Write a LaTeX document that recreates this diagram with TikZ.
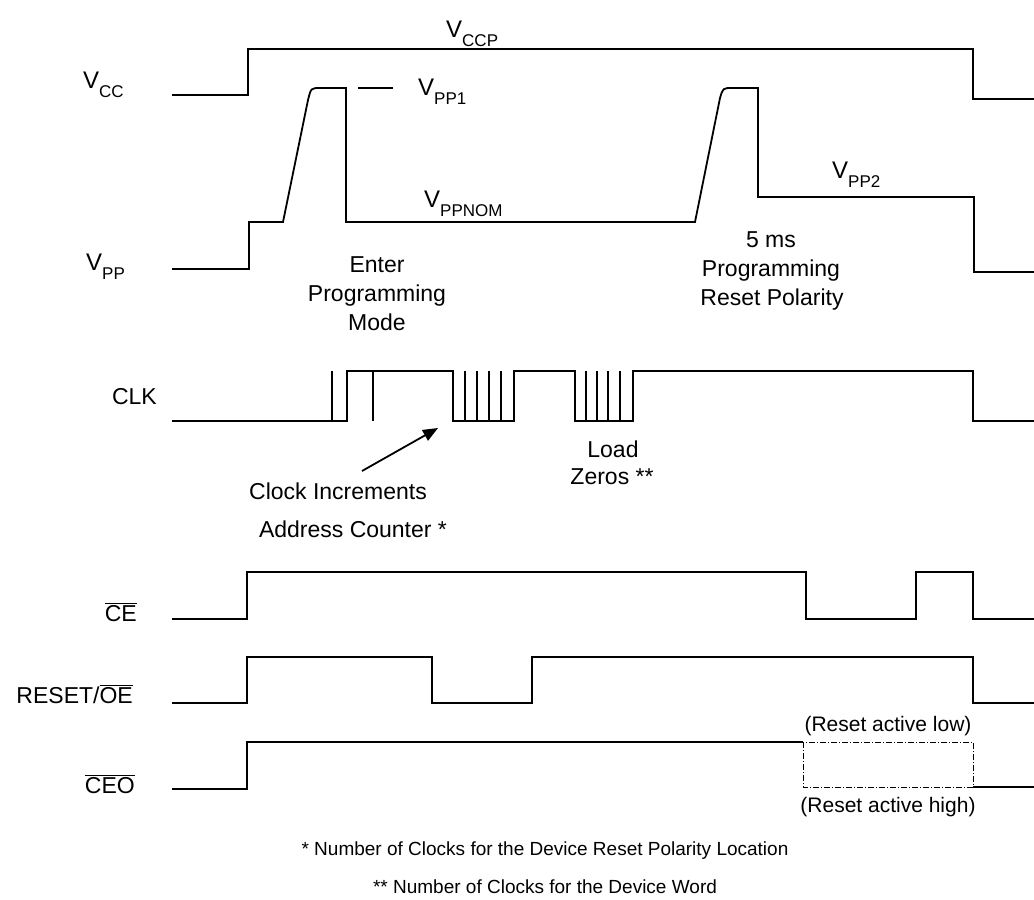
\documentclass[tikz,border=0pt]{standalone}
\usepackage{fontspec}
\setmainfont{Liberation Sans}
\usetikzlibrary{arrows.meta}
\newcommand\vsub[1]{{\fontsize{24}{28}\selectfont V}\raisebox{-9pt}{\fontsize{17}{17}\selectfont #1}}
\newcommand\ovl[1]{$\overline{\mbox{#1}}$}
\tikzset{
  sig/.style={line width=1.8pt, line join=miter},
  lbl/.style={inner sep=0pt, font=\fontsize{23}{28}\selectfont},
  foot/.style={inner sep=0pt, font=\fontsize{19}{23}\selectfont},
  small/.style={inner sep=0pt, font=\fontsize{21}{25}\selectfont},
  dashbox/.style={line width=0.7pt, dash pattern=on 6pt off 2pt on 1pt off 2pt},
  arr/.style={line width=1.8pt, -{Triangle[length=15pt,width=12pt]}}
}
\begin{document}
\begin{tikzpicture}[x=1pt,y=-1pt]
\useasboundingbox (0,0) rectangle (1034,900);
% left labels
\node[lbl,anchor=base west] (lvcc) at (83,88) {\vsub{CC}};
\node[lbl,anchor=base west] (lvpp) at (86,270) {\vsub{PP}};
\node[lbl,anchor=base east] (lclk) at (157,404) {CLK};
\node[lbl,anchor=base east] (lce) at (137,621) {\ovl{CE}};
\node[lbl,anchor=base east] (lreset) at (133,703) {RESET/\ovl{OE}};
\node[lbl,anchor=base east] (lceo) at (135,793) {\ovl{CEO}};
% level labels
\node[lbl,anchor=base west] (vccp) at (446,37) {\vsub{CCP}};
\node[lbl,anchor=base west] (vpp1) at (418,95) {\vsub{PP1}};
\node[lbl,anchor=base west] (vppnom) at (424,207) {\vsub{PPNOM}};
\node[lbl,anchor=base west] (vpp2) at (832,178) {\vsub{PP2}};
% annotations
\node[lbl,anchor=base] (e1) at (377,272) {Enter};
\node[lbl,anchor=base] (e2) at (377,301.5) {Programming};
\node[lbl,anchor=base] (e3) at (377,330) {Mode};
\node[lbl,anchor=base] (p1) at (771,247) {5 ms};
\node[lbl,anchor=base] (p2) at (771,276.5) {Programming};
\node[lbl,anchor=base] (p3) at (772,305) {Reset Polarity};
\node[lbl,anchor=base] (ci) at (338,499) {Clock Increments};
\node[lbl,anchor=base] (ac) at (353,537) {Address Counter *};
\node[lbl,anchor=base] (ld) at (613,457) {Load};
\node[lbl,anchor=base] (zr) at (612,484) {Zeros **};
\node[small,anchor=base] (ral) at (888,731) {(Reset active low)};
\node[small,anchor=base] (rah) at (888,812) {(Reset active high)};
\node[foot,anchor=base] (f1) at (545,855) {* Number of Clocks for the Device Reset Polarity Location};
\node[foot,anchor=base] (f2) at (545,893) {** Number of Clocks for the Device Word};
% VCC
\draw[sig] (172,95) -- (248,95) -- (248,49) -- (973,49) -- (973,99) -- (1034,99);
% VPP
\draw[sig] (172,269) -- (249,269) -- (249,222) -- (283,222) -- (308,100)
  .. controls (311,88) .. (320,88) -- (346,88) -- (346,222) -- (695,222) -- (720,98)
  .. controls (723,88) .. (732,88) -- (758,88) -- (758,197) -- (974,197) -- (974,272) -- (1034,272);
\draw[sig] (358,88) -- (393,88);
% CLK
\draw[sig] (172,421) -- (347,421) -- (347,371) -- (453,371) -- (453,421) -- (514,421)
  -- (514,371) -- (575,371) -- (575,421) -- (633,421) -- (633,371) -- (973,371)
  -- (973,421) -- (1034,421);
\foreach \x in {332,373,465,477,489,501,586,597,608,620}
  \draw[sig] (\x,371) -- (\x,421);
% arrow
\coordinate (atail) at (362,471);
\coordinate (ahead) at (438,428);
\draw[arr] (atail) -- (ahead);
% CE
\draw[sig] (172,619) -- (247,619) -- (247,572) -- (806,572) -- (806,619) -- (916,619)
  -- (916,572) -- (973,572) -- (973,619) -- (1034,619);
% RESET/OE
\draw[sig] (172,703) -- (247,703) -- (247,657) -- (432,657) -- (432,703) -- (532,703)
  -- (532,657) -- (973,657) -- (973,703) -- (1034,703);
% CEO
\draw[sig] (172,789) -- (247,789) -- (247,742) -- (803,742);
\draw[dashbox] (803,742) rectangle (973,787);
\draw[sig] (973,787) -- (1034,787);
\end{tikzpicture}
\end{document}
